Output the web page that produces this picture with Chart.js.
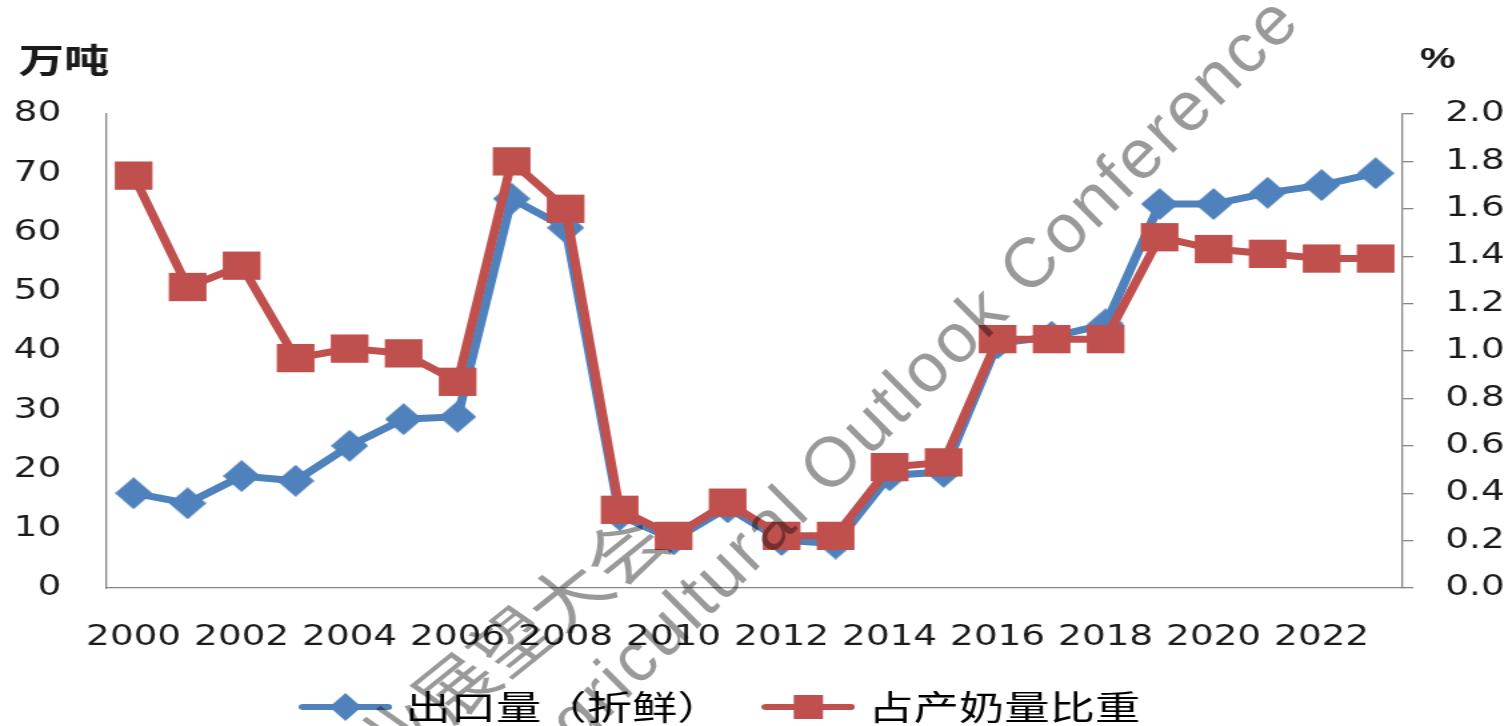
<!DOCTYPE html>
<html>
<head>
<meta charset="utf-8">
<script src="https://cdn.jsdelivr.net/npm/chart.js@4/dist/chart.umd.min.js"></script>
<style>
  html, body { margin: 0; padding: 0; background: #fff; overflow: hidden; }
  /* the reference is stretched sideways, so draw narrow and stretch */
  #wrap { width: 1128px; height: 726px; transform: scaleX(1.3333); transform-origin: 0 0; }
</style>
</head>
<body>
<div id="wrap"><canvas id="chart"></canvas></div>
<script>
const STRETCH = 1.3333;

const years = ['2000', '2001', '2002', '2003', '2004', '2005', '2006', '2007', '2008', '2009', '2010', '2011',
               '2012', '2013', '2014', '2015', '2016', '2017', '2018', '2019', '2020', '2021', '2022', '2023'];
// 出口量（折鲜），万吨
const exportVolume = [16.0, 14.3, 18.9, 18.1, 24.0, 28.5, 28.9, 65.7, 60.8, 12.3, 8.2, 13.6,
                      8.1, 7.5, 19.0, 19.6, 41.3, 42.4, 44.5, 64.8, 64.8, 66.7, 68.0, 70.0];
// 占产奶量比重，%
const shareOfMilk = [1.74, 1.27, 1.36, 0.97, 1.01, 0.99, 0.87, 1.80, 1.60, 0.33, 0.22, 0.36,
                     0.22, 0.22, 0.51, 0.53, 1.05, 1.05, 1.05, 1.48, 1.43, 1.41, 1.39, 1.39];
const leftTicks = [0, 10, 20, 30, 40, 50, 60, 70, 80];
const rightTicks = [0, 0.2, 0.4, 0.6, 0.8, 1.0, 1.2, 1.4, 1.6, 1.8, 2.0];

const BLUE = '#4F81BD';
const RED = '#C0504D';
const AXIS = '#868686';

// marker images
function diamond(w, h) {
    const c = document.createElement('canvas');
    c.width = w; c.height = h;
    const g = c.getContext('2d');
    g.fillStyle = BLUE;
    g.beginPath();
    g.moveTo(w / 2, 0); g.lineTo(w, h / 2); g.lineTo(w / 2, h); g.lineTo(0, h / 2);
    g.closePath(); g.fill();
    return c;
}
function legendIcon(color, kind) {
    const c = document.createElement('canvas');
    c.width = 70; c.height = 32;
    const g = c.getContext('2d');
    g.strokeStyle = color;
    g.lineWidth = 6;
    g.lineCap = 'round';
    g.beginPath(); g.moveTo(3, 16); g.lineTo(67, 16); g.stroke();
    g.fillStyle = color;
    if (kind === 'diamond') {
        g.drawImage(diamond(24, 28), 23, 2);
    } else {
        g.fillRect(24, 4, 22, 24);
    }
    return c;
}

const blueMarker = diamond(28, 32);

const overlayText = {
    id: 'overlayText',
    afterDraw(chart) {
        const ctx = chart.ctx;
        ctx.save();
        ctx.fillStyle = '#1a1a1a';
        ctx.textBaseline = 'middle';
        ctx.font = 'bold 34px "Noto Sans CJK SC"';
        ctx.fillText('万吨', 14, 60);
        ctx.font = 'bold 30px "Liberation Sans"';
        ctx.fillText('%', 1065, 60);

        // watermark
        ctx.fillStyle = 'rgba(0,0,0,0.4)';
        ctx.save();
        ctx.translate(489, 528);
        ctx.rotate(-47 * Math.PI / 180);
        ctx.font = '62px "Noto Sans CJK SC"';
        ctx.letterSpacing = '0px';
        ctx.textAlign = 'right';
        ctx.fillText('中国农业展望大会', 0, 0);
        ctx.restore();

        ctx.save();
        ctx.scale(1 / STRETCH, 1);
        ctx.translate(835, 464);
        ctx.rotate(-45 * Math.PI / 180);
        ctx.font = '70px "Liberation Sans"';
        ctx.letterSpacing = '2.7px';
        ctx.textAlign = 'left';
        const lead = ctx.measureText('Agricultural ').width + ctx.measureText('O').width / 2;
        ctx.fillText('Agricultural Outlook Conference', -lead, 0);
        ctx.restore();
        ctx.restore();
    }
};

new Chart(document.getElementById('chart'), {
    type: 'line',
    data: {
        labels: years,
        datasets: [{
            label: '出口量（折鲜）',
            data: exportVolume,
            yAxisID: 'y',
            borderColor: BLUE,
            backgroundColor: BLUE,
            borderWidth: 7,
            tension: 0,
            pointStyle: blueMarker,
            pointRadius: 16,
            order: 1,
        }, {
            label: '占产奶量比重',
            data: shareOfMilk,
            yAxisID: 'y1',
            borderColor: RED,
            backgroundColor: RED,
            borderWidth: 7,
            tension: 0,
            pointStyle: 'rect',
            pointRadius: 20,
            pointBorderWidth: 0,
            order: 0,
        }],
    },
    options: {
        responsive: true,
        maintainAspectRatio: false,
        animation: false,
        events: [],
        layout: { padding: { top: 114, left: 0, right: 0, bottom: -8 } },
        plugins: {
            tooltip: { enabled: false },
            legend: {
                position: 'bottom',
                labels: {
                    usePointStyle: true,
                    pointStyleWidth: 56,
                    padding: 4,
                    color: '#1a1a1a',
                    font: { family: '"Noto Sans CJK SC"', size: 34 },
                    generateLabels: () => [
                        { text: '出口量（折鲜）　  ', pointStyle: legendIcon(BLUE, 'diamond'), fillStyle: BLUE, strokeStyle: BLUE, lineWidth: 0, datasetIndex: 0 },
                        { text: '占产奶量比重　 ', pointStyle: legendIcon(RED, 'rect'), fillStyle: RED, strokeStyle: RED, lineWidth: 0, datasetIndex: 1 },
                    ],
                },
            },
        },
        scales: {
            x: {
                offset: true,
                grid: { display: false },
                border: { display: true, color: AXIS, width: 1.3 },
                ticks: {
                    autoSkip: false,
                    maxRotation: 0,
                    padding: 25,
                    color: '#1a1a1a',
                    font: { family: '"DejaVu Sans"', size: 28 },
                    callback: function (val, i) { return i % 2 === 0 ? this.getLabelForValue(val) : ''; },
                },
                afterFit: s => { s.height = 98; },
            },
            y: {
                position: 'left',
                min: 0, max: 80,
                grid: { display: false },
                border: { display: true, color: AXIS, width: 1.3 },
                afterBuildTicks: s => { s.ticks = leftTicks.map(v => ({ value: v })); },
                ticks: {
                    padding: 26,
                    color: '#1a1a1a',
                    font: { family: '"DejaVu Sans"', size: 28 },
                },
                afterFit: s => { s.width = 80; },
            },
            y1: {
                position: 'right',
                min: 0, max: 2,
                grid: { display: true, drawOnChartArea: false, drawTicks: true, tickLength: 8, color: AXIS, lineWidth: 1.3 },
                border: { display: true, color: AXIS, width: 1.3 },
                afterBuildTicks: s => { s.ticks = rightTicks.map(v => ({ value: v })); },
                ticks: {
                    padding: 24,
                    color: '#1a1a1a',
                    font: { family: '"DejaVu Sans"', size: 28 },
                    callback: v => v.toFixed(1),
                },
                afterFit: s => { s.width = 76; },
            },
        },
    },
    plugins: [overlayText],
});
</script>
</body>
</html>
